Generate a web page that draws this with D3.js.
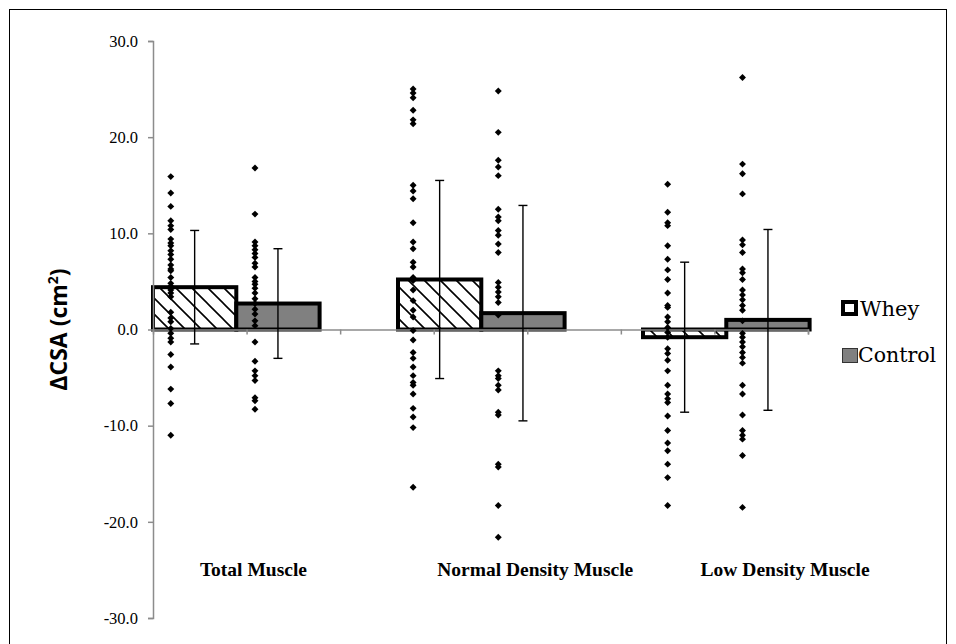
<!DOCTYPE html>
<html>
<head>
<meta charset="utf-8">
<script src="https://cdn.jsdelivr.net/npm/d3@7"></script>
<style>
  html, body { margin: 0; padding: 0; background: #fff; }
  svg { display: block; }
</style>
</head>
<body>
<svg id="chart" width="956" height="644"></svg>
<script>
// ---------- data ----------
const categories = ["Total Muscle", "Normal Density Muscle", "Low Density Muscle"];
const series = ["Whey", "Control"];
const wheyMeans = [4.4, 5.2, -0.8];
const controlMeans = [2.7, 1.7, 1.0];
const wheySD = [5.9, 10.3, 7.8];
const controlSD = [5.7, 11.2, 9.4];
const yTicks = [-30, -20, -10, 0, 10, 20, 30];

// x-positions of the individual-point columns on the secondary (scatter) x axis, 0..7
const wheyPointX = [0.19, 2.78, 5.50];
const controlPointX = [1.09, 3.69, 6.30];

const totalWhey = [15.9, 14.2, 12.8, 11.3, 10.8, 10.4, 9.4, 9.0, 8.7, 8.2, 7.8, 7.3, 6.7, 6.3, 6.1, 5.4, 4.8, 4.5, 4.1, 3.8, 3.4, 1.8, 1.2, 0.8, 0.1, -0.4, -0.9, -1.3, -2.6, -3.9, -6.2, -7.7, -11.0];
const totalControl = [16.8, 12.0, 9.1, 8.7, 8.3, 7.9, 7.5, 6.9, 6.5, 5.4, 5.0, 4.7, 4.3, 3.8, 3.2, 2.7, 2.1, 1.6, 0.9, 0.4, -1.3, -3.3, -4.3, -4.8, -5.3, -7.1, -7.4, -8.3];
const normalWhey = [25.0, 24.6, 24.1, 22.8, 21.8, 21.4, 15.0, 14.4, 13.6, 11.1, 9.1, 8.4, 7.0, 6.5, 5.4, 5.1, 4.1, 3.0, 2.0, 1.3, -0.1, -1.1, -2.4, -3.0, -3.9, -4.8, -5.5, -5.8, -6.7, -8.2, -9.1, -10.2, -16.4];
const normalControl = [24.8, 20.5, 17.6, 16.9, 16.0, 12.5, 11.7, 11.3, 10.3, 9.8, 8.9, 8.0, 4.9, 4.4, 3.9, 3.4, 2.8, 1.5, -4.3, -4.8, -5.1, -5.8, -6.3, -8.6, -8.9, -14.0, -14.3, -18.3, -21.6];
const lowWhey = [15.1, 12.2, 11.1, 10.8, 8.7, 7.3, 6.2, 5.2, 3.8, 2.5, 2.3, 1.3, 0.8, 0.2, -0.3, -0.8, -2.0, -2.5, -3.2, -4.3, -5.8, -6.7, -7.2, -7.6, -9.0, -10.5, -11.8, -12.6, -14.0, -15.4, -18.3];
const lowControl = [26.2, 17.2, 16.2, 14.1, 9.3, 8.8, 8.0, 6.3, 5.9, 5.2, 4.1, 3.6, 3.1, 2.5, 2.0, 0.9, -0.4, -0.8, -1.3, -1.8, -2.4, -2.9, -3.5, -5.8, -6.7, -8.9, -10.5, -11.0, -11.4, -13.1, -18.5];

// ---------- build tables ----------
const barData = [];
categories.forEach((c, i) => {
  barData.push({ cat: c, s: "Whey", v: wheyMeans[i], sd: wheySD[i] });
  barData.push({ cat: c, s: "Control", v: controlMeans[i], sd: controlSD[i] });
});
const pointColumns = [
  { x: wheyPointX[0], vals: totalWhey },
  { x: controlPointX[0], vals: totalControl },
  { x: wheyPointX[1], vals: normalWhey },
  { x: controlPointX[1], vals: normalControl },
  { x: wheyPointX[2], vals: lowWhey },
  { x: controlPointX[2], vals: lowControl }
];
const points = [];
pointColumns.forEach(col => col.vals.forEach(v => points.push({ x: col.x, v })));

// ---------- layout ----------
const svg = d3.select("#chart");
const plotLeft = 153, plotTop = 41, plotBottom = 618;

const y = d3.scaleLinear().domain([-30, 30]).range([plotBottom, plotTop]);
const x0 = d3.scaleBand().domain(categories).range([plotLeft, 888]).paddingInner(0).paddingOuter(0);
const x1 = d3.scaleBand().domain(series).range([0, x0.bandwidth() * 0.68]);
const xs = d3.scaleLinear().domain([0, 7]).range([plotLeft, 808]);

// frame
svg.append("rect").attr("x", 9.5).attr("y", 9.5).attr("width", 937).attr("height", 660)
  .attr("fill", "none").attr("stroke", "#000").attr("stroke-width", 1);

// hatch pattern
const defs = svg.append("defs");
const pat = defs.append("pattern").attr("id", "hatch").attr("patternUnits", "userSpaceOnUse")
  .attr("width", 16).attr("height", 16);
pat.append("rect").attr("width", 16).attr("height", 16).attr("fill", "#fff");
pat.append("path").attr("d", "M0,0 L16,16 M-8,8 L8,24 M8,-8 L24,8")
  .attr("stroke", "#000").attr("stroke-width", 1.6);

// bars
svg.append("g").selectAll("rect").data(barData).join("rect")
  .attr("x", d => x0(d.cat) + x1(d.s))
  .attr("y", d => y(Math.max(0, d.v)))
  .attr("width", x1.bandwidth())
  .attr("height", d => Math.abs(y(d.v) - y(0)))
  .attr("fill", d => d.s === "Whey" ? "url(#hatch)" : "#808080")
  .attr("stroke", "#000").attr("stroke-width", 4);

// y axis
const yAxis = d3.axisLeft(y).tickValues(yTicks).tickFormat(d => d.toFixed(1)).tickSize(5).tickPadding(10);
const gy = svg.append("g").attr("transform", `translate(${plotLeft},0)`).call(yAxis);
gy.select(".domain").attr("stroke", "#8c8c8c").attr("stroke-width", 1.5);
gy.selectAll(".tick line").attr("stroke", "#8c8c8c").attr("stroke-width", 1.5);
gy.selectAll(".tick text").attr("font-family", "'Liberation Serif', serif").attr("font-size", 16.5).attr("fill", "#000");

// x axis (secondary scatter axis at zero)
const xAxis = d3.axisBottom(xs).tickValues([1, 2, 3, 4, 5, 6, 7]).tickSize(5).tickFormat("");
const gx = svg.append("g").attr("transform", `translate(0,${y(0)})`).call(xAxis);
gx.select(".domain").attr("stroke", "#8c8c8c").attr("stroke-width", 1.5);
gx.selectAll(".tick line").attr("stroke", "#8c8c8c").attr("stroke-width", 1.5);

// error bars
const eb = svg.append("g").attr("stroke", "#000").attr("stroke-width", 1.4);
barData.forEach(d => {
  const cx = x0(d.cat) + x1(d.s) + x1.bandwidth() / 2;
  eb.append("line").attr("x1", cx).attr("x2", cx).attr("y1", y(d.v + d.sd)).attr("y2", y(d.v - d.sd));
  eb.append("line").attr("x1", cx - 4.5).attr("x2", cx + 4.5).attr("y1", y(d.v + d.sd)).attr("y2", y(d.v + d.sd));
  eb.append("line").attr("x1", cx - 4.5).attr("x2", cx + 4.5).attr("y1", y(d.v - d.sd)).attr("y2", y(d.v - d.sd));
});

// points (diamonds)
const diamond = d3.symbol().type(d3.symbolSquare).size(24);
svg.append("g").selectAll("path").data(points).join("path")
  .attr("d", diamond)
  .attr("transform", d => `translate(${xs(d.x)},${y(d.v)}) rotate(45)`)
  .attr("fill", "#000");

// category labels
const labelFrac = [0.41, 0.56, 0.58];
svg.append("g").selectAll("text").data(categories).join("text")
  .attr("x", (d, i) => x0(d) + x0.bandwidth() * labelFrac[i])
  .attr("y", 576)
  .attr("text-anchor", "middle")
  .attr("font-family", "'Liberation Serif', serif").attr("font-weight", "bold").attr("font-size", 19.5)
  .text(d => d);

// y label
const yl = svg.append("text")
  .attr("transform", `translate(67,${y(0)}) rotate(-90)`)
  .attr("text-anchor", "middle")
  .attr("font-family", "'Open Sans', sans-serif").attr("font-weight", "bold").attr("font-size", 23);
yl.append("tspan").text("ΔCSA (cm");
yl.append("tspan").attr("dy", -9).attr("font-size", 14).text("2");
yl.append("tspan").attr("dy", 9).text(")");

// legend
const lg = svg.append("g");
lg.append("rect").attr("x", 843).attr("y", 302).attr("width", 13).attr("height", 12)
  .attr("fill", "#fff").attr("stroke", "#000").attr("stroke-width", 4);
lg.append("rect").attr("x", 842.5).attr("y", 348.5).attr("width", 15).attr("height", 14)
  .attr("fill", "#808080").attr("stroke", "#333").attr("stroke-width", 1);
lg.append("text").attr("x", 860).attr("y", 316).attr("font-family", "'DejaVu Serif', serif").attr("font-size", 21).text(series[0]);
lg.append("text").attr("x", 858).attr("y", 362).attr("font-family", "'DejaVu Serif', serif").attr("font-size", 20.5).text(series[1]);
</script>
</body>
</html>
